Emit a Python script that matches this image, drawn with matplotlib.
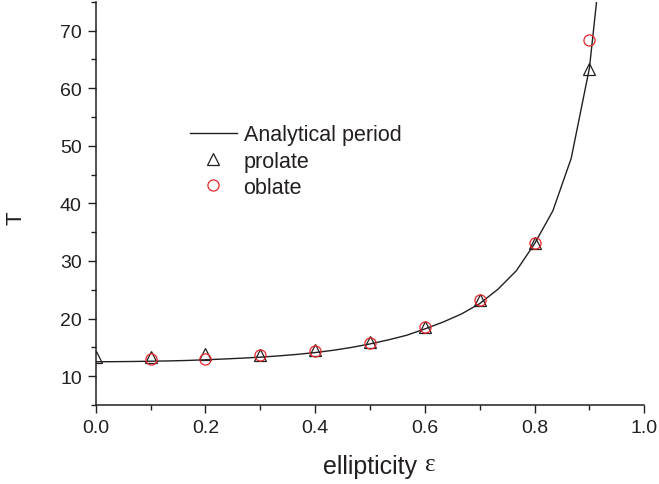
import matplotlib

matplotlib.use("Agg")
import matplotlib.pyplot as plt
from matplotlib.ticker import MultipleLocator

plt.rcParams.update({
    "font.family": ["Liberation Sans", "DejaVu Sans"],
    "text.color": "#231f20",
    "axes.labelcolor": "#231f20",
    "xtick.color": "#231f20",
    "ytick.color": "#231f20",
})

# analytical period curve (sampled every 1/30 in ellipticity)
eps_curve = [0.0, 0.0333, 0.0667, 0.1, 0.1333, 0.1667, 0.2, 0.2333, 0.2667,
             0.3, 0.3333, 0.3667, 0.4, 0.4333, 0.4667, 0.5, 0.5333, 0.5667,
             0.6, 0.6333, 0.6667, 0.7, 0.7333, 0.7667, 0.8, 0.8333, 0.8667,
             0.9, 0.9333]
T_curve = [12.5, 12.52, 12.55, 12.6, 12.65, 12.73, 12.85, 12.98, 13.13,
           13.3, 13.52, 13.78, 14.1, 14.5, 15.0, 15.6, 16.3, 17.1,
           18.2, 19.4, 20.8, 22.6, 25.1, 28.3, 33.0, 38.7, 47.8,
           63.5, 93.0]

# simulated periods
eps_prolate = [0.0, 0.1, 0.2, 0.3, 0.4, 0.5, 0.6, 0.7, 0.8, 0.9]
T_prolate = [13.4, 13.3, 13.8, 13.7, 14.6, 16.0, 18.6, 23.2, 33.1, 63.4]
eps_oblate = [0.1, 0.2, 0.3, 0.4, 0.5, 0.6, 0.7, 0.8, 0.9]
T_oblate = [13.0, 13.0, 13.6, 14.4, 15.8, 18.6, 23.3, 33.2, 68.3]

fig = plt.figure(figsize=(6.59, 4.85), dpi=100)
ax = fig.add_axes([0.1452, 0.1629, 0.8325, 0.8315])

ax.plot(eps_curve, T_curve, color="#231f20", lw=1.0, label="Analytical period")
ax.plot(eps_prolate, T_prolate, ls="none", marker="^", ms=8.5, mfc="none",
        mec="#231f20", mew=0.9, label="prolate")
ax.plot(eps_oblate, T_oblate, ls="none", marker="o", ms=8, mfc="none",
        mec="#e8262b", mew=0.9, label="oblate")

ax.set_xlim(0, 1.0)
ax.set_ylim(5, 75)
ax.xaxis.set_major_locator(MultipleLocator(0.2))
ax.xaxis.set_minor_locator(MultipleLocator(0.1))
ax.yaxis.set_minor_locator(MultipleLocator(5))
ax.set_yticks([10, 20, 30, 40, 50, 60, 70])
ax.xaxis.set_major_formatter(matplotlib.ticker.FormatStrFormatter("%.1f"))
ax.tick_params(which="major", direction="out", length=6, width=1.0,
               labelsize=14, pad=4)
ax.tick_params(which="minor", direction="out", length=3.3, width=1.0)
for s in ("top", "right"):
    ax.spines[s].set_visible(False)
for s in ("left", "bottom"):
    ax.spines[s].set_linewidth(1.1)
    ax.spines[s].set_color("#231f20")

ax.set_xlabel("ellipticity", fontsize=18, labelpad=13)
ax.text(0.6, -0.16, "\u03b5", transform=ax.transAxes, fontsize=18,
        family=["Liberation Serif", "DejaVu Serif"], ha="left", va="baseline")
ax.set_ylabel("T", fontsize=16)
ax.yaxis.label.set_va("center")
ax.yaxis.set_label_coords(-0.145, 0.466)

ax.legend(loc="upper left", bbox_to_anchor=(0.288, 0.742),
          bbox_transform=fig.transFigure, frameon=False, fontsize=15.5,
          handlelength=2.2, handletextpad=0.3, labelspacing=0.25,
          borderpad=0, borderaxespad=0, numpoints=1)

fig.savefig("out.png", dpi=100)
